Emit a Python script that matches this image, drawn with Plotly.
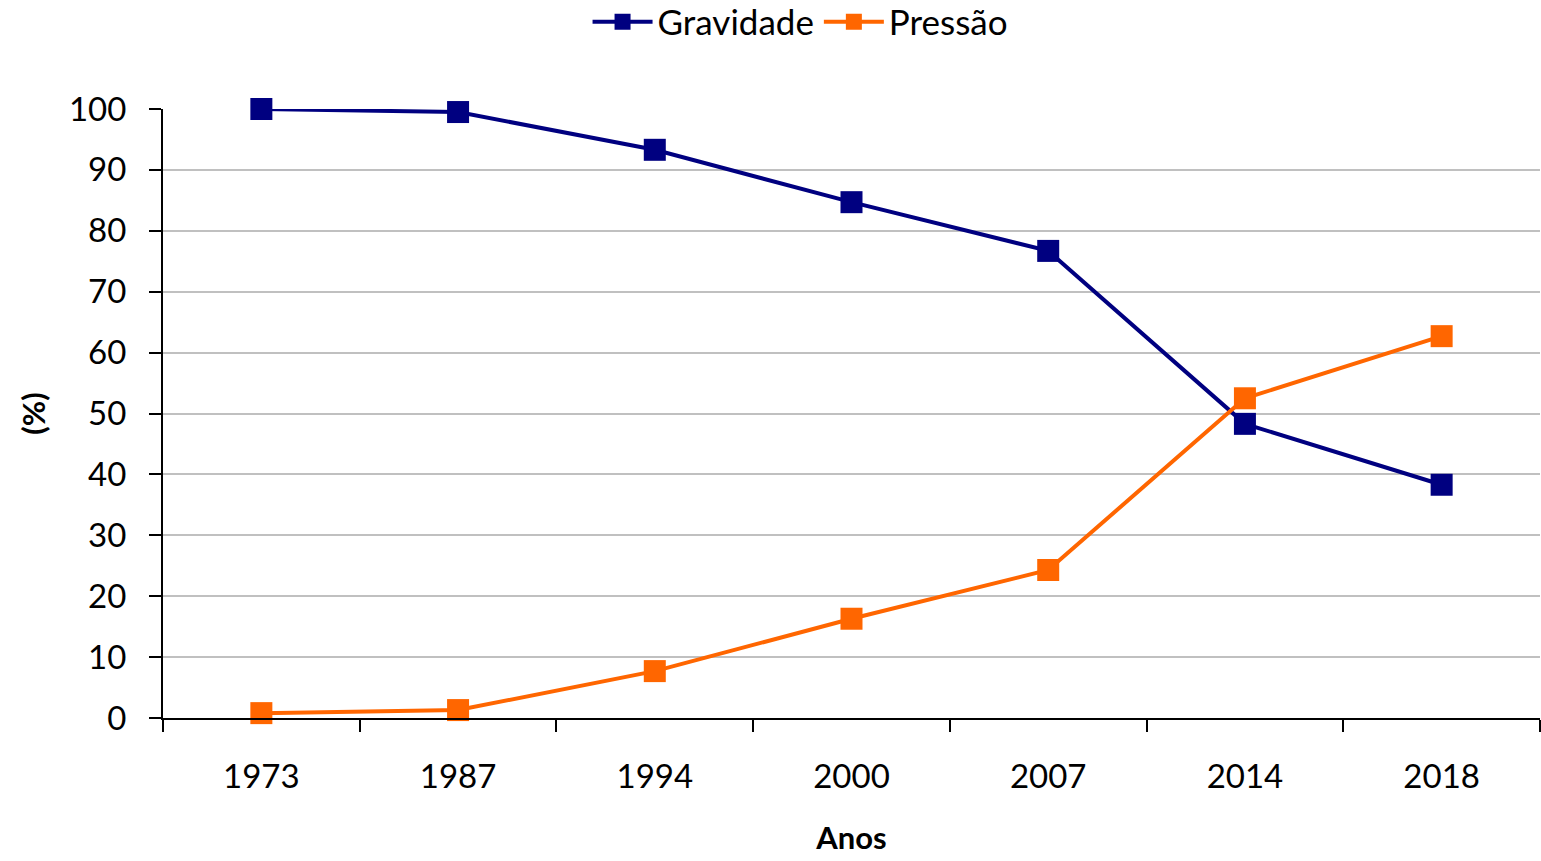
import plotly.graph_objects as go

anos = ["1973", "1987", "1994", "2000", "2007", "2014", "2018"]
gravidade = [100, 99.5, 93.3, 84.7, 76.7, 48.3, 38.3]
pressao = [0.8, 1.3, 7.7, 16.3, 24.3, 52.5, 62.7]

FONT = "Lato"

fig = go.Figure()
fig.add_trace(go.Scatter(x=anos, y=gravidade, name="Gravidade", mode="lines+markers",
                         line=dict(color="#000080", width=4),
                         marker=dict(symbol="square", size=22, color="#000080"),
                         cliponaxis=False))
fig.add_trace(go.Scatter(x=anos, y=pressao, name="Pressão", mode="lines+markers",
                         line=dict(color="#FF6600", width=4),
                         marker=dict(symbol="square", size=22, color="#FF6600"),
                         cliponaxis=False))

fig.update_layout(
    width=1541, height=861,
    paper_bgcolor="white", plot_bgcolor="white",
    margin=dict(l=163, r=1, t=109, b=143, autoexpand=False),
    font=dict(family=FONT, size=33, color="black"),
    legend=dict(orientation="h", x=0.463, xanchor="center", y=1.143, yanchor="middle",
                yref="paper", font=dict(size=35), itemwidth=60,
                bgcolor="rgba(0,0,0,0)"),
    showlegend=True,
)

fig.update_xaxes(type="category", range=[-0.5, 6.5], showline=True, linecolor="black",
                 linewidth=2, ticks="outside", tickson="boundaries", ticklen=12,
                 tickwidth=2, tickcolor="black", showgrid=False,
                 ticklabelstandoff=28, automargin=False,
                 title=dict(text="<b>Anos</b>", font=dict(size=31), standoff=34),
                 tickfont=dict(size=33))
fig.update_yaxes(range=[0, 100], dtick=10, showline=True, linecolor="black",
                 linewidth=2, ticks="outside", ticklen=12, tickwidth=2,
                 tickcolor="black", showgrid=True, gridcolor="#c0c0c0", gridwidth=2,
                 zeroline=False, ticklabelstandoff=16, automargin=False,
                 title=dict(text="<b>(%)</b>", font=dict(size=31), standoff=14),
                 tickfont=dict(size=33))

fig.write_html("out.html", config={"displayModeBar": False},
               post_script="document.body.style.margin='0';")
